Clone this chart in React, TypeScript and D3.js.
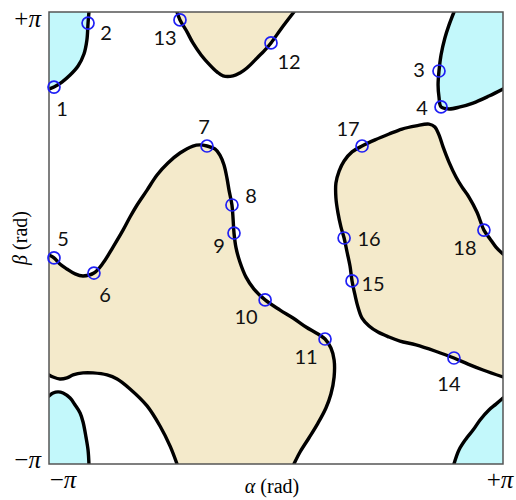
import React from 'react';
import * as d3 from 'd3';

type Pt = [number, number];

// Contour curves of the (α, β) map. Coordinates are in units of π rad: [α/π, β/π].
const cyanTopLeft: Pt[] = [
  [-1.0, 0.659], [-0.978, 0.668], [-0.943, 0.69], [-0.907, 0.721], [-0.872, 0.761],
  [-0.846, 0.814], [-0.833, 0.876], [-0.828, 0.951], [-0.824, 1.0],
];

const cyanTopRight: Pt[] = [
  [0.784, 1.0], [0.762, 0.942], [0.744, 0.885], [0.727, 0.81], [0.718, 0.739],
  [0.714, 0.677], [0.718, 0.624], [0.727, 0.58], [0.762, 0.571], [0.811, 0.58],
  [0.868, 0.597], [0.938, 0.628], [1.0, 0.659],
];

const cyanBottomLeft: Pt[] = [
  [-1.0, -0.699], [-0.982, -0.686], [-0.96, -0.681], [-0.938, -0.686], [-0.907, -0.708],
  [-0.885, -0.739], [-0.863, -0.774], [-0.85, -0.814], [-0.837, -0.881], [-0.828, -0.938],
  [-0.824, -1.0],
];

const cyanBottomRight: Pt[] = [
  [0.784, -1.0], [0.806, -0.938], [0.837, -0.889], [0.868, -0.85], [0.899, -0.805],
  [0.938, -0.761], [0.969, -0.735], [1.0, -0.708],
];

const beigeTop: Pt[] = [
  [-0.436, 1.0], [-0.423, 0.965], [-0.392, 0.912], [-0.366, 0.863], [-0.33, 0.81],
  [-0.291, 0.765], [-0.26, 0.735], [-0.233, 0.717], [-0.189, 0.717], [-0.159, 0.73],
  [-0.128, 0.752], [-0.079, 0.801], [-0.053, 0.827], [-0.022, 0.863], [0.022, 0.925],
  [0.079, 1.0],
];

// Upper boundary of the large left region, from the left edge to the bottom edge
const beigeLeftUpper: Pt[] = [
  [-1.0, -0.075], [-0.978, -0.088], [-0.952, -0.115], [-0.921, -0.137], [-0.885, -0.159],
  [-0.85, -0.168], [-0.802, -0.155], [-0.762, -0.111], [-0.718, -0.04], [-0.674, 0.035],
  [-0.643, 0.093], [-0.612, 0.146], [-0.568, 0.212], [-0.524, 0.279], [-0.476, 0.332],
  [-0.423, 0.376], [-0.366, 0.407], [-0.335, 0.412], [-0.304, 0.407], [-0.269, 0.394],
  [-0.247, 0.367], [-0.229, 0.323], [-0.216, 0.265], [-0.207, 0.212], [-0.194, 0.146],
  [-0.189, 0.084], [-0.185, 0.022], [-0.176, -0.044], [-0.159, -0.106], [-0.132, -0.173],
  [-0.097, -0.226], [-0.048, -0.274], [0.018, -0.319], [0.075, -0.354], [0.132, -0.394],
  [0.185, -0.425], [0.216, -0.447], [0.242, -0.487], [0.256, -0.54], [0.256, -0.615],
  [0.242, -0.69], [0.22, -0.752], [0.185, -0.819], [0.145, -0.885], [0.106, -0.947],
  [0.079, -1.0],
];

// Lower boundary of the large left region, from the left edge to the bottom edge
const beigeLeftLower: Pt[] = [
  [-1.0, -0.606], [-0.982, -0.615], [-0.952, -0.624], [-0.921, -0.619], [-0.894, -0.606],
  [-0.85, -0.597], [-0.806, -0.597], [-0.744, -0.606], [-0.7, -0.624], [-0.643, -0.668],
  [-0.568, -0.743], [-0.511, -0.832], [-0.467, -0.92], [-0.436, -1.0],
];

// Right region, from the right edge (lower crossing) around to the right edge (upper crossing)
const beigeRight: Pt[] = [
  [1.0, -0.615], [0.912, -0.584], [0.846, -0.558], [0.784, -0.531], [0.7, -0.5],
  [0.617, -0.473], [0.546, -0.456], [0.498, -0.438], [0.449, -0.416], [0.41, -0.389],
  [0.379, -0.354], [0.361, -0.305], [0.348, -0.252], [0.335, -0.19], [0.326, -0.124],
  [0.313, -0.062], [0.3, 0.0], [0.286, 0.049], [0.273, 0.111], [0.264, 0.177],
  [0.264, 0.243], [0.278, 0.296], [0.3, 0.341], [0.335, 0.381], [0.379, 0.407],
  [0.436, 0.434], [0.498, 0.46], [0.555, 0.482], [0.617, 0.496], [0.674, 0.504],
  [0.7, 0.491], [0.718, 0.456], [0.736, 0.403], [0.762, 0.336], [0.793, 0.27],
  [0.819, 0.226], [0.85, 0.181], [0.885, 0.115], [0.916, 0.035], [0.943, -0.004],
  [0.969, -0.04], [1.0, -0.071],
];

// Numbered points on the contours
const pointIds = [1, 2, 3, 4, 5, 6, 7, 8, 9, 10, 11, 12, 13, 14, 15, 16, 17, 18];
const pointAlpha = [
  -0.978, -0.828, 0.718, 0.727, -0.978, -0.802, -0.304, -0.194, -0.185,
  -0.048, 0.216, -0.022, -0.423, 0.784, 0.335, 0.3, 0.379, 0.916,
];
const pointBeta = [
  0.668, 0.951, 0.739, 0.58, -0.088, -0.155, 0.407, 0.146, 0.022,
  -0.274, -0.447, 0.863, 0.965, -0.531, -0.19, 0.0, 0.407, 0.035,
];

const tickValues = [-1, 1];
const tickSigns = ['\u2212', '+'];

// Label placement relative to each point, in pixels
const labelOffsets: Pt[] = [
  [8, 21], [18, 9], [-20, -2], [-19, 0], [9, -20], [11, 21], [-3, -20], [19, -10], [-15, 12],
  [-19, 16], [-19, 17], [18, 18], [-15, 17], [-5, 25], [21, 2], [25, 0], [-14, -18], [-19, 17],
];

const W = 516;
const H = 500;
const left = 49;
const right = 503;
const top = 12;
const bottom = 464;

const BEIGE = '#f4eacb';
const CYAN = '#c3f8fb';

export default function App() {
  const x = d3.scaleLinear().domain([-1, 1]).range([left, right]);
  const y = d3.scaleLinear().domain([-1, 1]).range([bottom, top]);

  const line = d3
    .line<Pt>()
    .x((d) => x(d[0]))
    .y((d) => y(d[1]))
    .curve(d3.curveCatmullRom.alpha(0.5));

  const path = (pts: Pt[]) => line(pts) as string;
  const cont = (pts: Pt[]) => 'L' + path(pts).slice(1);
  const corner = (p: Pt) => `L${x(p[0])},${y(p[1])}`;

  const fills = [
    { d: path(cyanTopLeft) + corner([-1, 1]) + 'Z', c: CYAN },
    { d: path(cyanTopRight) + corner([1, 1]) + 'Z', c: CYAN },
    { d: path(cyanBottomLeft) + corner([-1, -1]) + 'Z', c: CYAN },
    { d: path(cyanBottomRight) + corner([1, -1]) + 'Z', c: CYAN },
    { d: path(beigeTop) + 'Z', c: BEIGE },
    { d: path(beigeRight) + 'Z', c: BEIGE },
    {
      d: path(beigeLeftUpper) + cont([...beigeLeftLower].reverse()) + 'Z',
      c: BEIGE,
    },
  ];

  const curves = [
    cyanTopLeft, cyanTopRight, cyanBottomLeft, cyanBottomRight,
    beigeTop, beigeRight, beigeLeftUpper, beigeLeftLower,
  ];

  const serif = '"Liberation Serif", "DejaVu Serif", serif';

  return (
    <svg
      width={W}
      height={H}
      viewBox={`0 0 ${W} ${H}`}
      style={{ position: 'absolute', left: 0, top: 0, background: '#fff' }}
    >
      <defs>
        <clipPath id="plot-clip">
          <rect x={left} y={top} width={right - left} height={bottom - top} />
        </clipPath>
      </defs>

      <g clipPath="url(#plot-clip)">
        {fills.map((f, i) => (
          <path key={'f' + i} d={f.d} fill={f.c} stroke="none" />
        ))}
        {curves.map((c, i) => (
          <path
            key={'c' + i}
            d={path(c)}
            fill="none"
            stroke="#000"
            strokeWidth={3.4}
            strokeLinejoin="round"
            strokeLinecap="round"
          />
        ))}
      </g>

      <rect
        x={left}
        y={top}
        width={right - left}
        height={bottom - top}
        fill="none"
        stroke="#555"
        strokeWidth={1.5}
      />

      {pointIds.map((id, i) => (
        <g key={'p' + id}>
          <circle
            cx={x(pointAlpha[i])}
            cy={y(pointBeta[i])}
            r={6}
            fill="none"
            stroke="#1f1ff5"
            strokeWidth={1.7}
          />
          <text
            x={x(pointAlpha[i]) + labelOffsets[i][0]}
            y={y(pointBeta[i]) + labelOffsets[i][1]}
            textAnchor="middle"
            dominantBaseline="central"
            fontFamily="Lato, 'Open Sans', sans-serif"
            fontSize={20}
            fill="#111"
          >
            {id}
          </text>
        </g>
      ))}

      {/* y ticks */}
      {tickValues.map((v, i) => (
        <text
          key={'yt' + i}
          x={left - 8}
          y={y(v) + (v > 0 ? 15 : 4)}
          textAnchor="end"
          fontFamily={serif}
          fontSize={25}
          fill="#000"
        >
          {tickSigns[i]}
          <tspan fontStyle="italic">π</tspan>
        </text>
      ))}

      {/* x ticks */}
      {tickValues.map((v, i) => (
        <text
          key={'xt' + i}
          x={x(v) + (v < 0 ? 14 : -3)}
          y={bottom + 24}
          textAnchor="middle"
          fontFamily={serif}
          fontSize={25}
          fill="#000"
        >
          {tickSigns[i]}
          <tspan fontStyle="italic">π</tspan>
        </text>
      ))}

      <text
        x={272}
        y={493}
        textAnchor="middle"
        fontFamily={serif}
        fontSize={20}
        fill="#000"
      >
        <tspan fontStyle="italic">α</tspan> (rad)
      </text>

      <text
        transform={`translate(27, ${(top + bottom) / 2}) rotate(-90)`}
        textAnchor="middle"
        fontFamily={serif}
        fontSize={20}
        fill="#000"
      >
        <tspan fontStyle="italic">β</tspan> (rad)
      </text>
    </svg>
  );
}
